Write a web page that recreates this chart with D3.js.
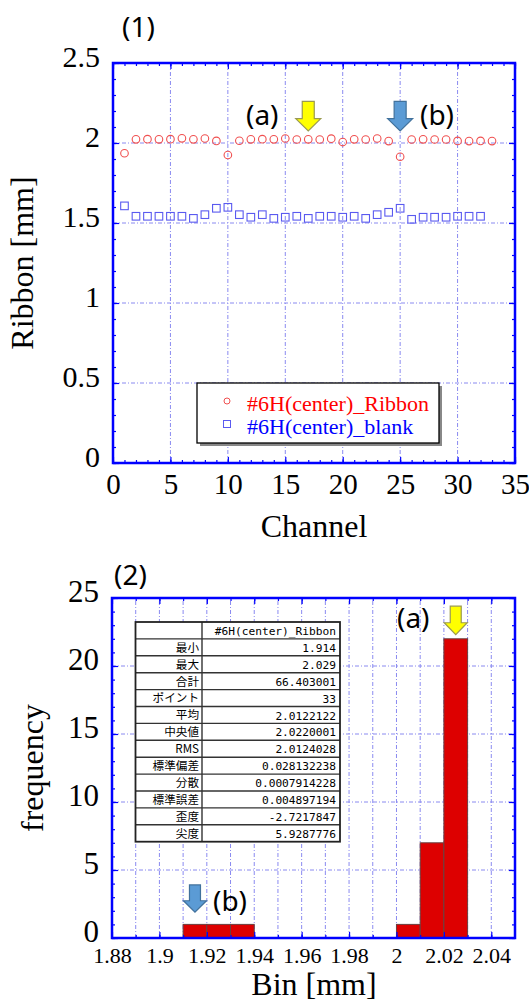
<!DOCTYPE html>
<html>
<head>
<meta charset="utf-8">
<script src="https://cdn.jsdelivr.net/npm/d3@7"></script>
<style>
body { margin: 0; background: #fff; }
svg { display: block; }
.grid { stroke: #8a8af0; stroke-width: 1; stroke-dasharray: 4,2,1,2; }
</style>
</head>
<body>
<svg width="529" height="1002"></svg>
<script>
// ---- data ----
var channels = [1,2,3,4,5,6,7,8,9,10,11,12,13,14,15,16,17,18,19,20,21,22,23,24,25,26,27,28,29,30,31,32,33]
var ribbon = [1.936,2.023,2.024,2.023,2.024,2.029,2.023,2.028,2.013,1.925,2.014,2.023,2.024,2.023,2.028,2.022,
  2.023,2.022,2.027,2.006,2.023,2.022,2.028,2.012,1.914,2.022,2.023,2.022,2.022,2.013,2.012,2.013,2.012]
// blank has no value for channel 33
var blank = [1.607,1.542,1.542,1.542,1.542,1.542,1.529,1.552,1.592,1.598,1.552,1.536,1.552,1.529,1.536,1.542,
  1.529,1.542,1.542,1.536,1.542,1.529,1.552,1.567,1.592,1.523,1.536,1.536,1.536,1.542,1.542,1.542]
var chTicks = [0,5,10,15,20,25,30,35]
var ribbonTicks = [0,0.5,1,1.5,2,2.5]

var binStart = [1.91,1.92,1.93,2.00,2.01,2.02]
var binCount = [1,1,1,1,7,22]
var binWidth = 0.01
var binTicks = [1.88,1.9,1.92,1.94,1.96,1.98,2,2.02,2.04]
var binGrid = [1.89,1.9,1.91,1.92,1.93,1.94,1.95,1.96,1.97,1.98,1.99,2,2.01,2.02,2.03,2.04]
var freqTicks = [0,5,10,15,20,25]

var statHeader = "#6H(center)_Ribbon"
var statNames = ["最小","最大","合計","ポイント","平均","中央値","RMS","標準偏差","分散","標準誤差","歪度","尖度"]
var statValues = ["1.914","2.029","66.403001","33","2.0122122","2.0220001","2.0124028","0.028132238",
  "0.0007914228","0.004897194","-2.7217847","5.9287776"]

var SERIF = "'Liberation Serif', 'Times New Roman', 'DejaVu Serif', serif"
var SANS = "'Noto Sans', 'Open Sans', sans-serif"
var MONO = "'DejaVu Sans Mono', 'Liberation Mono', monospace"
var CJK = "'Noto Sans CJK JP', sans-serif"

var svg = d3.select("svg")
svg.append("rect").attr("width", 529).attr("height", 1002).attr("fill", "#fff")

// dotted grid lines
function grid(g, x, y, gx, gy) {
  g.append("g").selectAll("line").data(gx).enter().append("line").attr("class", "grid")
    .attr("x1", d => x(d)).attr("x2", d => x(d)).attr("y1", y.range()[0]).attr("y2", y.range()[1])
  g.append("g").selectAll("line").data(gy).enter().append("line").attr("class", "grid")
    .attr("y1", d => y(d)).attr("y2", d => y(d)).attr("x1", x.range()[0]).attr("x2", x.range()[1])
}

// blue frame with inward ticks on all four sides
function border(g, x, y, xMajor, xMinor, yMajor, yMinor) {
  var x0 = x.range()[0], x1 = x.range()[1], y0 = y.range()[0], y1 = y.range()[1]
  function put(axis, tr) {
    var a = g.append("g").attr("transform", tr).call(axis)
    a.select(".domain").remove()
    a.selectAll("line").attr("stroke", "#0000ff").attr("stroke-width", 1.2)
    a.selectAll("text").remove()
  }
  put(d3.axisBottom(x).tickValues(xMinor).tickSize(-3), "translate(0," + y0 + ")")
  put(d3.axisTop(x).tickValues(xMinor).tickSize(-3), "translate(0," + y1 + ")")
  put(d3.axisBottom(x).tickValues(xMajor).tickSize(-6), "translate(0," + y0 + ")")
  put(d3.axisTop(x).tickValues(xMajor).tickSize(-6), "translate(0," + y1 + ")")
  put(d3.axisLeft(y).tickValues(yMinor).tickSize(-3), "translate(" + x0 + ",0)")
  put(d3.axisRight(y).tickValues(yMinor).tickSize(-3), "translate(" + x1 + ",0)")
  put(d3.axisLeft(y).tickValues(yMajor).tickSize(-6), "translate(" + x0 + ",0)")
  put(d3.axisRight(y).tickValues(yMajor).tickSize(-6), "translate(" + x1 + ",0)")
  g.append("rect").attr("x", x0).attr("y", y1).attr("width", x1 - x0).attr("height", y0 - y1)
    .attr("fill", "none").attr("stroke", "#0000ff").attr("stroke-width", 2.5)
}

function labels(g, x, y, xt, yt, xFont, yFont, xPad, yPad, yShift) {
  var ax = g.append("g").attr("transform", "translate(0," + y.range()[0] + ")")
    .call(d3.axisBottom(x).tickValues(xt).tickSize(0).tickPadding(xPad).tickFormat(d3.format("~g")))
  var ay = g.append("g").attr("transform", "translate(" + x.range()[0] + ",0)")
    .call(d3.axisLeft(y).tickValues(yt).tickSize(0).tickPadding(yPad).tickFormat(d3.format("~g")))
  ax.select(".domain").remove()
  ay.select(".domain").remove()
  ax.attr("font-family", null)
  ay.attr("font-family", null)
  ax.selectAll("text").style("font-family", SERIF).attr("font-size", xFont).attr("fill", "#000")
  ay.selectAll("text").style("font-family", SERIF).attr("font-size", yFont).attr("fill", "#000")
    .attr("dy", (0.33 * yFont - yShift) + "px")
}

function txt(g, x, y, size, font, s) {
  return g.append("text").attr("x", x).attr("y", y).attr("font-size", size)
    .style("font-family", font).text(s)
}

function arrow(g, cx, top, bottom, hw, sw, fill, stroke) {
  var hs = top + (bottom - top) * 0.58
  var pts = [[cx - sw, top], [cx + sw, top], [cx + sw, hs], [cx + hw, hs], [cx, bottom], [cx - hw, hs], [cx - sw, hs]]
  g.append("path").attr("d", d3.line()(pts) + "Z")
    .attr("fill", fill).attr("stroke", stroke).attr("stroke-width", 1.2)
}

// ================= chart (1) =================
var x1 = d3.scaleLinear().domain([0, 35]).range([113, 515])
var y1 = d3.scaleLinear().domain([0, 2.5]).range([463, 63])
var c1 = svg.append("g")

grid(c1, x1, y1, [5,10,15,20,25,30], [0.5,1,1.5,2])

c1.append("g").selectAll("circle").data(ribbon).enter().append("circle")
  .attr("cx", (d, i) => x1(channels[i])).attr("cy", d => y1(d)).attr("r", 3.8)
  .attr("fill", "none").attr("stroke", "#f05050").attr("stroke-width", 1.1)
c1.append("g").selectAll("rect").data(blank).enter().append("rect")
  .attr("x", (d, i) => x1(channels[i]) - 3.8).attr("y", d => y1(d) - 3.8)
  .attr("width", 7.6).attr("height", 7.6)
  .attr("fill", "none").attr("stroke", "#5a5af0").attr("stroke-width", 1.1)

// legend
c1.append("rect").attr("x", 200).attr("y", 386).attr("width", 242).attr("height", 60).attr("fill", "#888")
c1.append("rect").attr("x", 197).attr("y", 383).attr("width", 242).attr("height", 60)
  .attr("fill", "#fff").attr("stroke", "#000").attr("stroke-width", 1.3)
c1.append("circle").attr("cx", 227).attr("cy", 401).attr("r", 3)
  .attr("fill", "none").attr("stroke", "#f05050")
c1.append("rect").attr("x", 223.5).attr("y", 420.5).attr("width", 7).attr("height", 7)
  .attr("fill", "none").attr("stroke", "#5a5af0")
txt(c1, 247, 411, 22, SERIF, "#6H(center)_Ribbon").attr("fill", "#ff0000")
txt(c1, 247, 434, 22, SERIF, "#6H(center)_blank").attr("fill", "#0000ff")

border(c1, x1, y1, chTicks, d3.range(0, 36, 1), ribbonTicks, d3.range(0, 26).map(d => d / 10))
labels(c1, x1, y1, chTicks, ribbonTicks, 29, 30, 10, 13, 6)

txt(c1, 314, 537, 32, SERIF, "Channel").attr("text-anchor", "middle")
txt(c1, 0, 0, 32, SERIF, "Ribbon [mm]").attr("text-anchor", "middle")
  .attr("transform", "translate(33,263) rotate(-90)")
txt(c1, 122, 37, 28, SANS, "(1)")
txt(c1, 246, 125, 28, SANS, "(a)")
txt(c1, 420, 125, 28, SANS, "(b)")
arrow(c1, x1(17), y1(2.26), y1(2.075), 12.5, 6, "#ffff00", "#9a9a50")
arrow(c1, x1(25), y1(2.26), y1(2.075), 12.5, 6, "#5b9bd5", "#41719c")

// ================= chart (2) =================
var x2 = d3.scaleLinear().domain([1.88, 2.05]).range([112, 515])
var y2 = d3.scaleLinear().domain([0, 25]).range([938, 598])
var c2 = svg.append("g")

grid(c2, x2, y2, binGrid, [5,10,15,20])

c2.append("g").selectAll("rect").data(binCount).enter().append("rect")
  .attr("x", (d, i) => x2(binStart[i])).attr("width", (d, i) => x2(binStart[i] + binWidth) - x2(binStart[i]))
  .attr("y", d => y2(d)).attr("height", d => y2(0) - y2(d))
  .attr("fill", "#dd0000").attr("stroke", "#6a4040").attr("stroke-width", 1)

// statistics table
var tx0 = 135.5, tx1 = 202, tx2 = 340, ty0 = 622, rh = 16.9
var table = c2.append("g")
var rows = [statHeader].concat(statNames)
table.append("rect").attr("x", tx0).attr("y", ty0).attr("width", tx2 - tx0).attr("height", rh * rows.length)
  .attr("fill", "#fff")
table.selectAll(".hl").data(d3.range(1, rows.length)).enter().append("line")
  .attr("x1", tx0).attr("x2", tx2).attr("y1", d => ty0 + d * rh).attr("y2", d => ty0 + d * rh)
  .attr("stroke", "#333").attr("stroke-width", 1.4)
table.append("line").attr("x1", tx1).attr("x2", tx1).attr("y1", ty0).attr("y2", ty0 + rh * rows.length)
  .attr("stroke", "#333").attr("stroke-width", 1.4)
table.append("rect").attr("x", tx0).attr("y", ty0).attr("width", tx2 - tx0).attr("height", rh * rows.length)
  .attr("fill", "none").attr("stroke", "#222").attr("stroke-width", 1.8)
txt(table, tx2 - 4, ty0 + 13, 11.2, MONO, statHeader).attr("text-anchor", "end")
table.selectAll(".nm").data(statNames).enter().append("text")
  .attr("x", tx1 - 3).attr("y", (d, i) => ty0 + (i + 1) * rh + 12.8).attr("text-anchor", "end")
  .style("font-family", CJK).attr("font-size", 11.6).text(d => d)
table.selectAll(".vl").data(statValues).enter().append("text")
  .attr("x", tx2 - 4).attr("y", (d, i) => ty0 + (i + 1) * rh + 13).attr("text-anchor", "end")
  .style("font-family", MONO).attr("font-size", 11.2).text(d => d)

border(c2, x2, y2, binTicks, binGrid, freqTicks, d3.range(0, 26))
labels(c2, x2, y2, binTicks, freqTicks, 22, 31, 9, 13, 7)

txt(c2, 314, 995, 32, SERIF, "Bin [mm]").attr("text-anchor", "middle")
txt(c2, 0, 0, 32, SERIF, "frequency").attr("text-anchor", "middle")
  .attr("transform", "translate(43,768) rotate(-90)")
txt(c2, 114, 585, 28, SANS, "(2)")
txt(c2, 397, 628, 28, SANS, "(a)")
txt(c2, 213, 911, 28, SANS, "(b)")
arrow(c2, x2(2.025), y2(24.4), y2(22.3), 11.5, 5.5, "#ffff00", "#9a9a50")
arrow(c2, x2(1.915), y2(3.9), y2(1.9), 11.5, 5.5, "#5b9bd5", "#41719c")
</script>
</body>
</html>
